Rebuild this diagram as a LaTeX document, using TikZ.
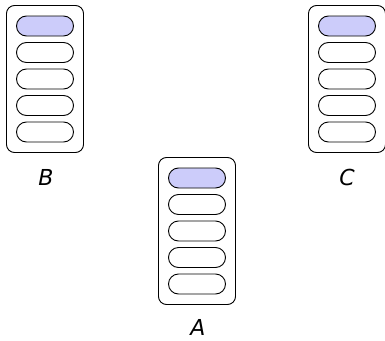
\documentclass[tikz,border=0pt]{standalone}
\usepackage{fontspec}
\setmainfont{DejaVu Sans}
\begin{document}
\begin{tikzpicture}[x=1pt,y=-1pt,
  stack/.style={draw=black, line width=0.9pt, rounded corners=8pt,
    minimum width=77pt, minimum height=147pt, inner sep=0pt},
  slot/.style={draw=black, line width=0.9pt, rounded corners=10pt,
    minimum width=57pt, minimum height=20pt, inner sep=0pt, fill=white},
  active/.style={slot, fill=slotblue},
  tag/.style={font=\fontsize{22}{24}\selectfont\itshape, inner sep=0pt}]
\definecolor{slotblue}{RGB}{204,204,250}
\useasboundingbox (0,0) rectangle (385,340);

% three stacks, each with five slots; the top slot is highlighted
\foreach \name/\cx/\cy in {B/45/79, A/197/231, C/347/79}{
  \node[stack] (\name) at (\cx,\cy) {};
  \node[active] (\name1) at (\cx,\cy-53) {};
  \foreach \k in {2,...,5}{
    \node[slot] (\name\k) at (\cx,\cy-53+26.5*\k-26.5) {};
  }
}

% stack labels
\node[tag] (labB) at (46,177) {B};
\node[tag] (labC) at (347,177) {C};
\node[tag] (labA) at (198,327) {A};
\end{tikzpicture}
\end{document}
